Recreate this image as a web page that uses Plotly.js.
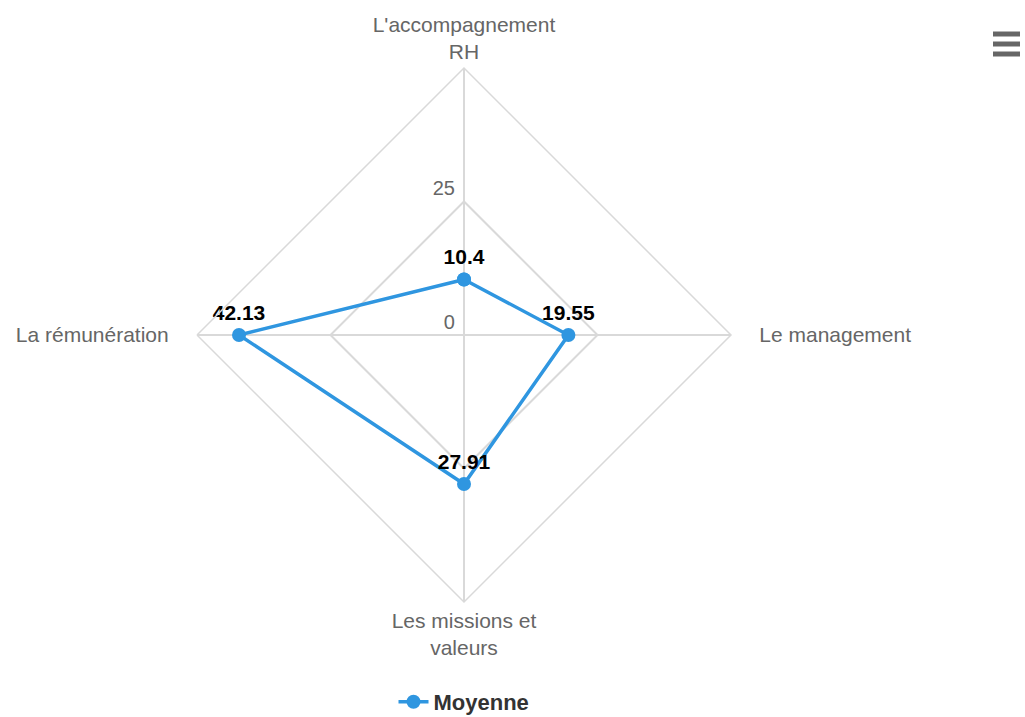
<!DOCTYPE html>
<html>
<head>
<meta charset="utf-8">
<script src="https://cdn.plot.ly/plotly-3.0.1.min.js"></script>
<style>html,body{margin:0;padding:0;background:#fff;}#chart{width:1025px;height:717px;}</style>
</head>
<body>
<div id="chart"></div>
<script>
const categories = ["L'accompagnement RH", "Le management", "Les missions et valeurs", "La rémunération"];
const categoryLabels = ["L'accompagnement<br>RH", "\u00a0\u00a0\u00a0\u00a0Le management", "Les missions et<br>valeurs", "La rémunération\u00a0\u00a0\u00a0\u00a0"];
const moyenne = [10.4, 19.55, 27.91, 42.13];
const seriesName = "Moyenne";
const radialTicks = [0, 25, 50];
const radialTickText = ["0\u00a0<br>\u00a0", "25\u00a0<br>\u00a0", ""];

const blue = "#2f96e0";
const closedTheta = categories.concat([categories[0]]);
const closedR = moyenne.concat([moyenne[0]]);
const closedText = moyenne.map(v => String(v)).concat([""]);

const trace = {
  type: "scatterpolar",
  mode: "lines+markers+text",
  name: seriesName,
  theta: closedTheta,
  r: closedR,
  text: closedText,
  textposition: "top center",
  textfont: {family: "Liberation Sans, Arial, sans-serif", size: 21, color: "#000", weight: "bold"},
  line: {color: blue, width: 3.5},
  marker: {color: blue, size: 14},
  cliponaxis: false,
  hoverinfo: "theta+r"
};

const W = 1025, H = 717;
const L = 197, R = 731, T = 68, B = 602;
const pw = R - L, ph = B - T;
function px(x){ return (x - L) / pw; }
function py(y){ return (B - y) / ph; }

const shapes = [34, 44, 54].map(y => ({
  type: "line", xref: "paper", yref: "paper",
  x0: px(993), x1: px(1020), y0: py(y), y1: py(y),
  line: {color: "#666", width: 5}
}));

const layout = {
  width: W, height: H,
  margin: {l: L, r: W - R, t: T, b: H - B, autoexpand: false},
  paper_bgcolor: "#fff",
  font: {family: "Liberation Sans, Arial, sans-serif", color: "#666"},
  showlegend: true,
  legend: {
    orientation: "h", x: 0.5, xanchor: "center", y: py(702), yanchor: "middle",
    font: {size: 22, color: "#333", weight: "bold"}
  },
  polar: {
    domain: {x: [0, 1], y: [0, 1]},
    gridshape: "linear",
    bgcolor: "#fff",
    angularaxis: {
      direction: "clockwise", rotation: 90,
      type: "category",
      categoryarray: categories,
      tickvals: categories,
      ticktext: categoryLabels,
      tickfont: {size: 21, color: "#666"},
      linecolor: "#d9d9d9", linewidth: 1.5,
      gridcolor: "#d9d9d9", gridwidth: 1.5,
      ticks: "", ticklen: 0
    },
    radialaxis: {
      range: [0, 50], angle: 90,
      tickvals: radialTicks, ticktext: radialTickText,
      tickfont: {size: 20, color: "#666"},
      gridcolor: "#d9d9d9", gridwidth: 1.5,
      showline: false, ticks: "", tickangle: 90,
      side: "counterclockwise"
    }
  },
  shapes: shapes
};

Plotly.newPlot("chart", [trace], layout, {displayModeBar: false, responsive: false});
</script>
</body>
</html>
